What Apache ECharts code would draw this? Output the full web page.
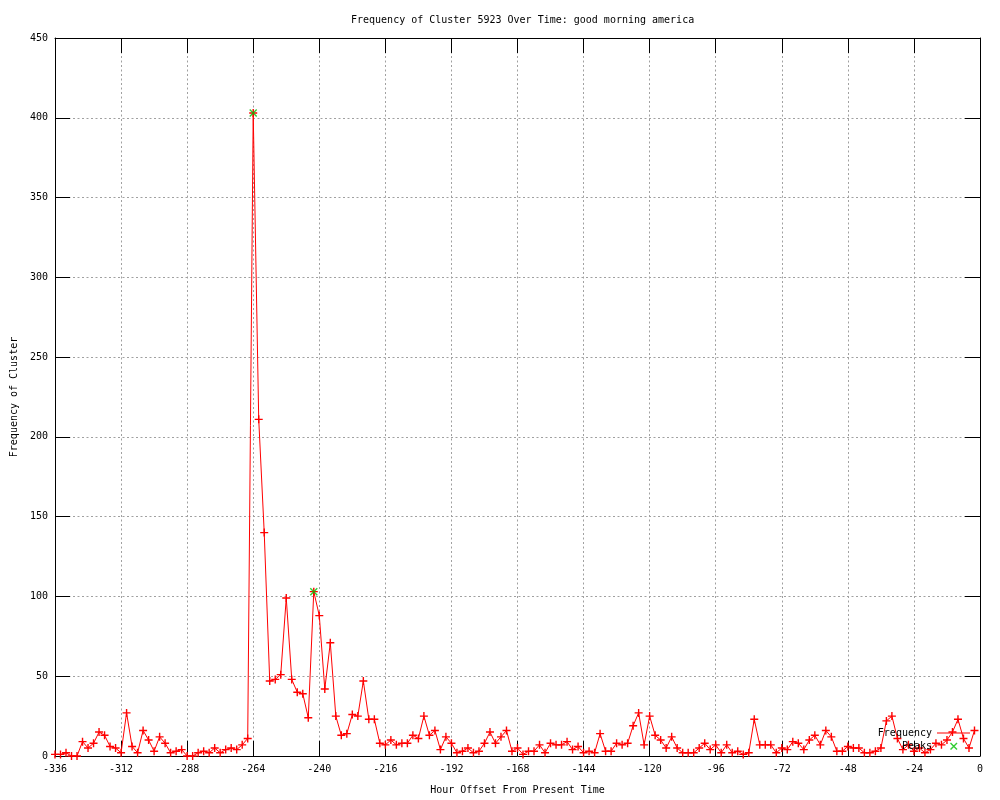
<!DOCTYPE html>
<html>
<head>
<meta charset="utf-8">
<script src="https://cdn.jsdelivr.net/npm/echarts@6/dist/echarts.min.js"></script>
<style>html,body{margin:0;padding:0;background:#fff}#c{width:1000px;height:800px}</style>
</head>
<body>
<div id="c"></div>
<script>
// Sampling of the hour axis (every 2 hours, from -336)
const hourStart = -336;
const hourStep = 2;
// Frequency values, one per sampled hour
const frequency = [
  1, 1, 2, 0, 0, 9, 5, 8, 15, 13, 6, 5, 2, 27, 6, 2, 16, 10, 3, 12,
  8, 2, 3, 4, 0, 0, 2, 3, 2, 5, 2, 4, 5, 4, 7, 11, 403, 211, 140, 47,
  48, 51, 99, 48, 40, 39, 24, 103, 88, 42, 71, 25, 13, 14, 26, 25, 47, 23, 23, 8,
  7, 10, 7, 8, 8, 13, 11, 25, 13, 16, 4, 12, 8, 2, 3, 5, 2, 3, 8, 15,
  8, 12, 16, 3, 5, 1, 3, 3, 7, 2, 8, 7, 7, 9, 4, 6, 2, 3, 2, 14,
  3, 3, 8, 7, 8, 19, 27, 7, 25, 13, 10, 5, 12, 5, 2, 2, 2, 5, 8, 4,
  7, 2, 7, 2, 3, 1, 2, 23, 7, 7, 7, 2, 5, 4, 9, 8, 4, 10, 13, 7,
  16, 12, 3, 3, 6, 5, 5, 2, 2, 3, 5, 22, 25, 11, 4, 7, 3, 5, 2, 4,
  8, 7, 10, 15, 23, 11, 5, 16
];
const peakHours = [-264, -242];
const peakValues = [403, 103];
const xTicks = [-336, 0, 24];   // min, max, interval
const yTicks = [0, 450, 50];

const hours = frequency.map((_, i) => hourStart + i * hourStep);
const freqData = hours.map((h, i) => [h, frequency[i]]);
const peakData = peakHours.map((h, i) => [h, peakValues[i]]);

const FONT = 'DejaVu Sans Mono';
const PLUS = 'path://M0,3.3H8V4.7H0Z M3.3,0H4.7V8H3.3Z';
const CROSS = 'path://M0,1L1,0L8,7L7,8Z M7,0L8,1L1,8L0,7Z';
// legend icons drawn in a 33x10 box (tiny corner dots fix the box)
const BOX = 'path://M0,0h0.02v0.02h-0.02Z M33,10h-0.02v-0.02h0.02Z ';
const LINE_LEGEND = BOX + 'M0,4.5H33V5.5H0Z';
const CROSS_LEGEND = BOX + 'M13,2.5L14,1.5L20.5,8L19.5,9Z M19.5,1.5L20.5,2.5L14,9L13,8Z';

const gridLine = { show: true, lineStyle: { color: '#a0a0a0', type: [2, 2.5], width: 1 } };
const axisLine = { show: true, onZero: false, lineStyle: { color: '#000', width: 1 } };
const tick = { show: true, inside: true, length: 15, lineStyle: { color: '#000', width: 1 } };
const label = { color: '#000', fontFamily: FONT, fontSize: 10 };
const legendText = { fontFamily: FONT, fontSize: 10, color: '#000' };

const chart = echarts.init(document.getElementById('c'), null, { renderer: 'canvas' });
chart.setOption({
  animation: false,
  backgroundColor: '#fff',
  title: {
    text: 'Frequency of Cluster 5923 Over Time: good morning america',
    left: 346, top: 10,
    textStyle: { fontFamily: FONT, fontSize: 10, fontWeight: 'normal', color: '#000' }
  },
  grid: { left: 55, right: 20, top: 38, bottom: 40, containLabel: false },
  legend: {
    orient: 'vertical', right: 30, top: 728, align: 'right',
    itemWidth: 33, itemHeight: 10, itemGap: 3, padding: 0,
    textStyle: legendText,
    data: [{ name: 'Frequency', icon: LINE_LEGEND }, { name: 'Peaks', icon: CROSS_LEGEND }]
  },
  xAxis: [{
    type: 'value', min: xTicks[0], max: xTicks[1], interval: xTicks[2],
    name: 'Hour Offset From Present Time', nameLocation: 'middle', nameGap: 29,
    nameTextStyle: label,
    axisLine: axisLine, axisTick: tick, splitLine: gridLine,
    axisLabel: Object.assign({ margin: 8 }, label)
  }, {
    type: 'value', position: 'top', min: xTicks[0], max: xTicks[1], interval: xTicks[2],
    axisLine: axisLine, axisTick: tick, splitLine: { show: false }, axisLabel: { show: false }
  }],
  yAxis: [{
    type: 'value', min: yTicks[0], max: yTicks[1], interval: yTicks[2],
    name: 'Frequency of Cluster', nameLocation: 'middle', nameGap: 36,
    nameTextStyle: label,
    axisLine: axisLine, axisTick: tick, splitLine: gridLine,
    axisLabel: Object.assign({ margin: 7 }, label)
  }, {
    type: 'value', position: 'right', min: yTicks[0], max: yTicks[1], interval: yTicks[2],
    axisLine: axisLine, axisTick: tick, splitLine: { show: false }, axisLabel: { show: false }
  }],
  series: [{
    name: 'Frequency', type: 'line', data: freqData,
    xAxisIndex: 0, yAxisIndex: 0,
    showSymbol: true, showAllSymbol: true,
    symbol: PLUS, symbolSize: 8,
    lineStyle: { color: '#ff0000', width: 1 },
    itemStyle: { color: '#ff0000' },
    emphasis: { disabled: true }
  }, {
    name: 'Peaks', type: 'scatter', data: peakData,
    xAxisIndex: 0, yAxisIndex: 0,
    symbol: CROSS, symbolSize: 8, symbolKeepAspect: true,
    itemStyle: { color: '#00c000' },
    z: 3,
    emphasis: { disabled: true }
  }]
});
</script>
</body>
</html>
